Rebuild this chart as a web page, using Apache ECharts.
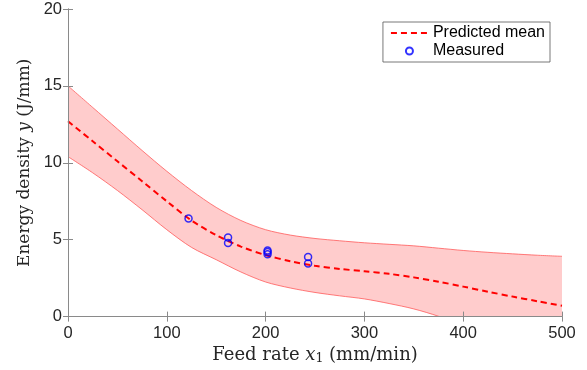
<!DOCTYPE html>
<html><head><meta charset="utf-8">
<script src="https://cdn.jsdelivr.net/npm/echarts@6/dist/echarts.min.js"></script>
<style>html,body{margin:0;padding:0;background:#fff}#c{width:587px;height:370px}</style>
</head><body><div id="c"></div>
<script>
// Feed rate grid (mm/min)
const feedRate = [0,25,50,75,100,125,150,175,200,225,250,275,300,325,350,375,400,425,450,475,500];
// Predicted mean energy density (J/mm)
const meanPred = [12.7,11.4,10.1,8.8,7.5,6.25,5.3,4.55,4.0,3.6,3.3,3.1,2.95,2.78,2.55,2.27,1.95,1.62,1.3,1.0,0.71];
// Confidence band bounds
const upperBound = [15.0,13.6,12.2,10.8,9.45,8.2,7.1,6.25,5.65,5.3,5.08,4.93,4.8,4.7,4.6,4.45,4.3,4.18,4.08,3.99,3.92];
const lowerBound = [10.4,9.35,8.2,6.95,5.65,4.5,3.7,2.9,2.25,1.86,1.57,1.35,1.15,0.85,0.5,0.02,-0.6,-1.3,-2.0,-2.8,-3.6];
// Measured points
const measuredX = [122,162,162,202,202,202,243,243];
const measuredY = [6.38,5.15,4.78,4.3,4.2,4.05,3.88,3.45];
// Axis ticks
const xTicks = [0,100,200,300,400,500];
const yTicks = [0,5,10,15,20];

const axisColor = '#8a8a8a';
const labelFont = {fontFamily:'Liberation Sans, Arial, sans-serif', fontSize:16.5, color:'#262626'};
const serif = 'DejaVu Serif, serif';

const lowerData = feedRate.map((x,i)=>[x, lowerBound[i]]);
const upperData = feedRate.map((x,i)=>[x, upperBound[i]]);
const meanData = feedRate.map((x,i)=>[x, meanPred[i]]);
const measData = measuredX.map((x,i)=>[x, measuredY[i]]);

const xStep = xTicks[1]-xTicks[0], yStep = yTicks[1]-yTicks[0];
const baseX = {type:'value', min:xTicks[0], max:xTicks[xTicks.length-1], interval:xStep, z:10,
  splitLine:{show:false}, axisLine:{show:true,lineStyle:{color:axisColor,width:1}},
  axisTick:{show:true,inside:true,length:5,lineStyle:{color:axisColor}}};
const baseY = {type:'value', min:yTicks[0], max:yTicks[yTicks.length-1], interval:yStep, z:10,
  splitLine:{show:false}, axisLine:{show:true,lineStyle:{color:axisColor,width:1}},
  axisTick:{show:true,inside:true,length:5,lineStyle:{color:axisColor}}};

const chart = echarts.init(document.getElementById('c'), null, {renderer:'canvas'});
chart.setOption({
  animation:false,
  backgroundColor:'#fff',
  grid:{left:68,right:25,top:9,bottom:53,containLabel:false},
  legend:{
    data:[{name:'Predicted mean', itemStyle:{opacity:0}}, 'Measured'], orient:'vertical', right:37, top:22,
    padding:[3,5,3,7], itemGap:2, itemWidth:37, itemHeight:7, itemTextGap:5, z:20,
    backgroundColor:'#fff', borderColor:'#555', borderWidth:0.8, borderRadius:0,
    textStyle:{fontFamily:'Liberation Sans, Arial, sans-serif', fontSize:16, color:'#000'}
  },
  xAxis:[
    Object.assign({}, baseX, {position:'bottom',
      axisLabel:Object.assign({margin:8}, labelFont),
      name:'Feed rate {i|x}{s|1} (mm/min)', nameLocation:'middle', nameGap:21,
      nameTextStyle:{fontFamily:serif, fontSize:18, color:'#262626',
        rich:{i:{fontFamily:serif,fontStyle:'italic',fontSize:18,color:'#262626'},
              s:{fontFamily:serif,fontSize:12.5,color:'#262626',verticalAlign:'bottom',padding:[6,0,0,0]}}}}),
    Object.assign({}, baseX, {position:'top', axisLabel:{show:false}})
  ],
  yAxis:[
    Object.assign({}, baseY, {position:'left',
      axisLabel:Object.assign({margin:6}, labelFont),
      name:'Energy density {i|y} (J/mm)', nameLocation:'middle', nameGap:33,
      nameTextStyle:{fontFamily:serif, fontSize:17, color:'#262626',
        rich:{i:{fontFamily:serif,fontStyle:'italic',fontSize:17,color:'#262626'}}}}),
    Object.assign({}, baseY, {position:'right', axisLabel:{show:false}})
  ],
  series:[
    {name:'upper', type:'line', data:upperData, smooth:0.3, symbol:'none', silent:true, z:1,
      lineStyle:{color:'#ff5a5a', width:0.8},
      areaStyle:{color:'#ffcccc', opacity:1, origin:'start'}},
    {name:'lower', type:'line', data:lowerData, smooth:0.3, symbol:'none', silent:true, z:1,
      lineStyle:{color:'#ff5a5a', width:0.8},
      areaStyle:{color:'#ffffff', opacity:1, origin:'start'}},
    {name:'Predicted mean', type:'line', data:meanData, smooth:0.3, symbol:'none', z:3,
      lineStyle:{color:'#ff0000', width:2, type:[6,4]}, itemStyle:{color:'#ff0000'}},
    {name:'Measured', type:'scatter', data:measData, symbol:'circle', symbolSize:7, z:4,
      itemStyle:{color:'rgba(0,0,0,0)', borderColor:'#0000ff', borderWidth:1.5}}
  ]
});
</script></body></html>
